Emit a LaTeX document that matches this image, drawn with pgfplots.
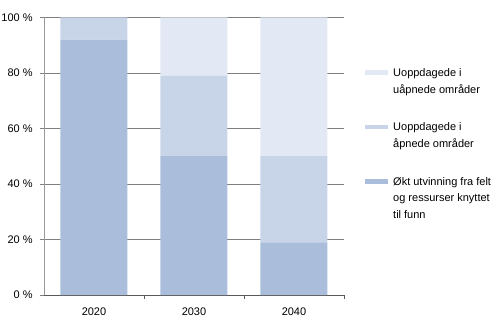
\documentclass[border=0pt]{standalone}
\usepackage{pgfplots}
\pgfplotsset{compat=1.18}
\usepackage{fontspec}
\setmainfont{Liberation Sans}
\definecolor{cDark}{HTML}{AABEDC}
\definecolor{cMid}{HTML}{C8D5E8}
\definecolor{cLight}{HTML}{E2E9F4}
\definecolor{gridc}{HTML}{7F7F7F}
\definecolor{axisc}{HTML}{999999}
\begin{document}
\fontsize{11bp}{16bp}\selectfont
\begin{tikzpicture}
\useasboundingbox (-44bp,-40bp) rectangle (456bp,295bp);
\begin{axis}[
  at={(0,0)}, anchor=south west,
  scale only axis, width=300bp, height=277.5bp,
  ybar stacked, bar width=0.67,
  xmin=-0.5, xmax=2.5, ymin=0, ymax=100,
  xtick={0,1,2}, xticklabels={2020,2030,2040},
  minor xtick={0.5,1.5,2.5},
  ytick={0,20,40,60,80,100},
  yticklabel={\pgfmathprintnumber{\tick}~\%},
  /pgf/number format/assume math mode=true,
  tick align=outside,
  major tick length=3.5bp, minor tick length=3.5bp,
  major x tick style={draw=none},
  minor x tick style={draw=gray!70!black, line width=0.8pt},
  major y tick style={draw=gridc, line width=0.8pt},
  axis x line*=bottom, axis y line*=left,
  x axis line style={-, draw=gray!70!black, line width=0.8pt},
  y axis line style={-, draw=axisc, line width=0.8pt},
  ymajorgrids, grid style={draw=gridc, line width=0.8pt},
  tick label style={font=\fontsize{11bp}{13bp}\selectfont},
  yticklabel style={xshift=-4bp},
  xticklabel style={yshift=-5bp},
  reverse legend,
  legend style={draw=none, fill=none, at={(1.07,0.817)}, anchor=north west,
    inner sep=0pt, row sep=28bp, column sep=5bp,
    font=\fontsize{11bp}{16.5bp}\selectfont,
    nodes={align=left, inner xsep=0pt, inner ysep=0pt},
    cells={anchor=north west}},
  legend image code/.code={\path[#1, draw=none] (0bp,-2bp) rectangle (23bp,-6.5bp);},
]
\addplot+[fill=cDark, draw=none] coordinates {(0,92) (1,50) (2,19)};
\addplot+[fill=cMid, draw=none] coordinates {(0,8) (1,29) (2,31)};
\addplot+[fill=cLight, draw=none] coordinates {(0,0) (1,21) (2,50)};
\legend{{Økt utvinning fra felt\\og ressurser knyttet\\til funn},
        {Uoppdagede i\\åpnede områder},
        {Uoppdagede i\\uåpnede områder}}
\end{axis}
\end{tikzpicture}
\end{document}
